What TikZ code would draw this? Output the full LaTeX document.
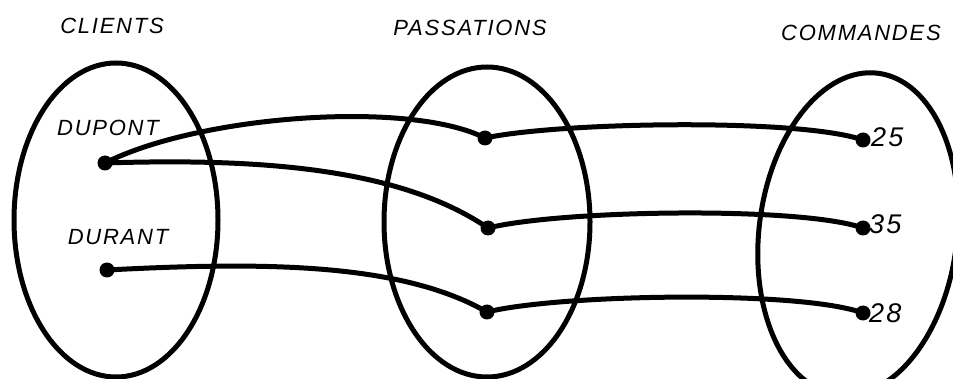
\documentclass[tikz,border=0pt]{standalone}
\usepackage{fontspec}
\newfontfamily\hand[LetterSpace=8]{Liberation Sans Italic}
\begin{document}
\begin{tikzpicture}[x=1pt,y=-1pt,
  setline/.style={line width=5pt},
  link/.style={line width=5pt},
  dot/.style={circle,fill=black,inner sep=0pt,minimum size=15pt},
  lbl/.style={font=\hand\fontsize{22}{22}\selectfont,inner sep=0pt},
  num/.style={font=\hand\fontsize{27}{27}\selectfont,inner sep=0pt,anchor=west}]
\useasboundingbox (0,0) rectangle (953,379);
\clip (0,0) rectangle (953,379);
% sets
\draw[setline] (116,220) ellipse [x radius=102, y radius=157];
\draw[setline] (487,222) ellipse [x radius=103, y radius=155];
\draw[setline,rotate around={-7:(858,234)}] (858,234) ellipse [x radius=99, y radius=162];
% titles
\node[lbl] (tc) at (112,26) {CLIENTS};
\node[lbl] (tp) at (470,28) {PASSATIONS};
\node[lbl] (tm) at (861,33) {COMMANDES};
\node[lbl] (ldp) at (108,128) {DUPONT};
\node[lbl] (ldr) at (118,237) {DURANT};
% dots
\node[dot] (c1) at (105,163) {};
\node[dot] (c2) at (107,270) {};
\node[dot] (p1) at (485,138) {};
\node[dot] (p2) at (488,228) {};
\node[dot] (p3) at (487,312) {};
\node[dot] (k1) at (863,140) {};
\node[dot] (k2) at (863,228) {};
\node[dot] (k3) at (863,313) {};
\node[num] (n1) at (871,137) {25};
\node[num] (n2) at (869,224) {35};
\node[num] (n3) at (869,313) {28};
% connectors
\draw[link] (c1.center) .. controls (200,115) and (410,100) .. (p1.center);
\draw[link] (c1.center) .. controls (260,158) and (400,168) .. (p2.center);
\draw[link] (c2.center) .. controls (260,262) and (400,262) .. (p3.center);
\draw[link] (p1.center) .. controls (560,122) and (800,118) .. (k1.center);
\draw[link] (p2.center) .. controls (560,210) and (800,206) .. (k2.center);
\draw[link] (p3.center) .. controls (560,294) and (800,290) .. (k3.center);
\end{tikzpicture}
\end{document}
